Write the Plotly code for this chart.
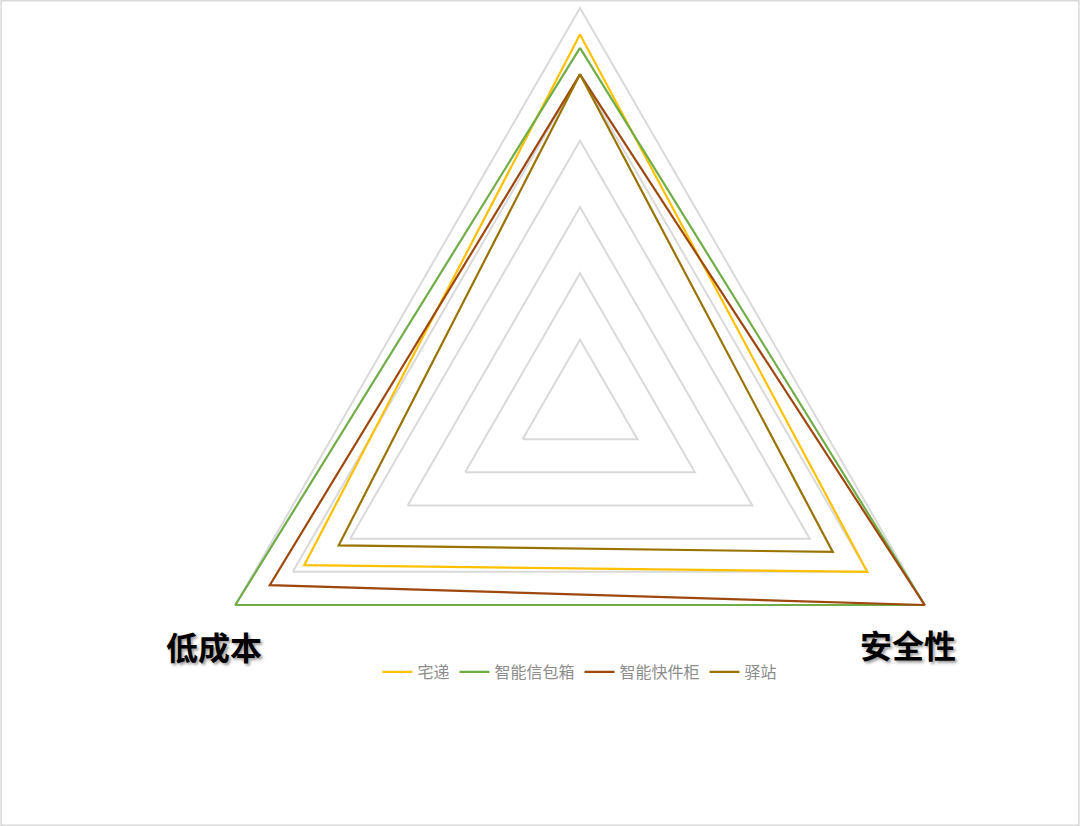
import plotly.graph_objects as go

categories = ["效率", "安全性", "低成本"]
series_names = ["宅递", "智能信包箱", "智能快件柜", "驿站"]
zhaidi = [5.6, 5.0, 4.8]
xinbaoxiang = [5.4, 6.0, 6.0]
kuaijiangui = [5.0, 6.0, 5.4]
yizhan = [5.0, 4.4, 4.2]
series_values = [zhaidi, xinbaoxiang, kuaijiangui, yizhan]
colors = ["#FFC000", "#70AD47", "#9E480E", "#997300"]

fig = go.Figure()
for name, vals, col in zip(series_names, series_values, colors):
    fig.add_trace(go.Scatterpolar(
        r=vals + vals[:1],
        theta=categories + categories[:1],
        mode="lines",
        name=name,
        line=dict(color=col, width=2.2),
        cliponaxis=False,
        hoverinfo="skip",
    ))

W, H = 1080, 826
rmax, rpad = 6, 6.08
cx, cy = 580, 406
R = 398 * rpad / rmax
label_font = dict(family="Noto Sans CJK SC", size=32, color="black", weight="bold",
                  shadow="2px 2px 3px rgba(0,0,0,0.4)")
fig.update_layout(
    width=W, height=H,
    margin=dict(l=0, r=0, t=0, b=0),
    paper_bgcolor="white",
    plot_bgcolor="white",
    polar=dict(
        domain=dict(x=[(cx - R) / W, (cx + R) / W], y=[(H - cy - R) / H, (H - cy + R) / H]),
        bgcolor="white",
        gridshape="linear",
        angularaxis=dict(
            rotation=90, direction="clockwise", layer="below traces",
            showgrid=False, showline=False,
            showticklabels=False, ticks="",
        ),
        radialaxis=dict(
            range=[0, rpad], tickvals=[1, 2, 3, 4, 5, 6], showline=False, showticklabels=False, ticks="",
            gridcolor="#d9d9d9", gridwidth=1.5, layer="below traces",
        ),
    ),
    showlegend=True,
    legend=dict(
        orientation="h", x=0.537, y=(H - 672) / H, xanchor="center", yanchor="middle",
        font=dict(family="Noto Sans CJK SC", size=16, color="#8c8c8c"),
        itemwidth=30, tracegroupgap=0,
    ),
    annotations=[
        dict(text=categories[2], x=214 / W, y=(H - 646) / H, xref="paper", yref="paper",
             showarrow=False, xanchor="center", yanchor="middle", font=label_font),
        dict(text=categories[1], x=908 / W, y=(H - 644) / H, xref="paper", yref="paper",
             showarrow=False, xanchor="center", yanchor="middle", font=label_font),
    ],
    shapes=[dict(type="rect", xref="paper", yref="paper", x0=0.001, y0=0.001, x1=0.999, y1=0.999,
                 line=dict(color="#d9d9d9", width=1.5))],
)

fig.write_html("out.html", config={"displayModeBar": False},
               post_script="document.body.style.margin='0';document.body.style.padding='0';")
